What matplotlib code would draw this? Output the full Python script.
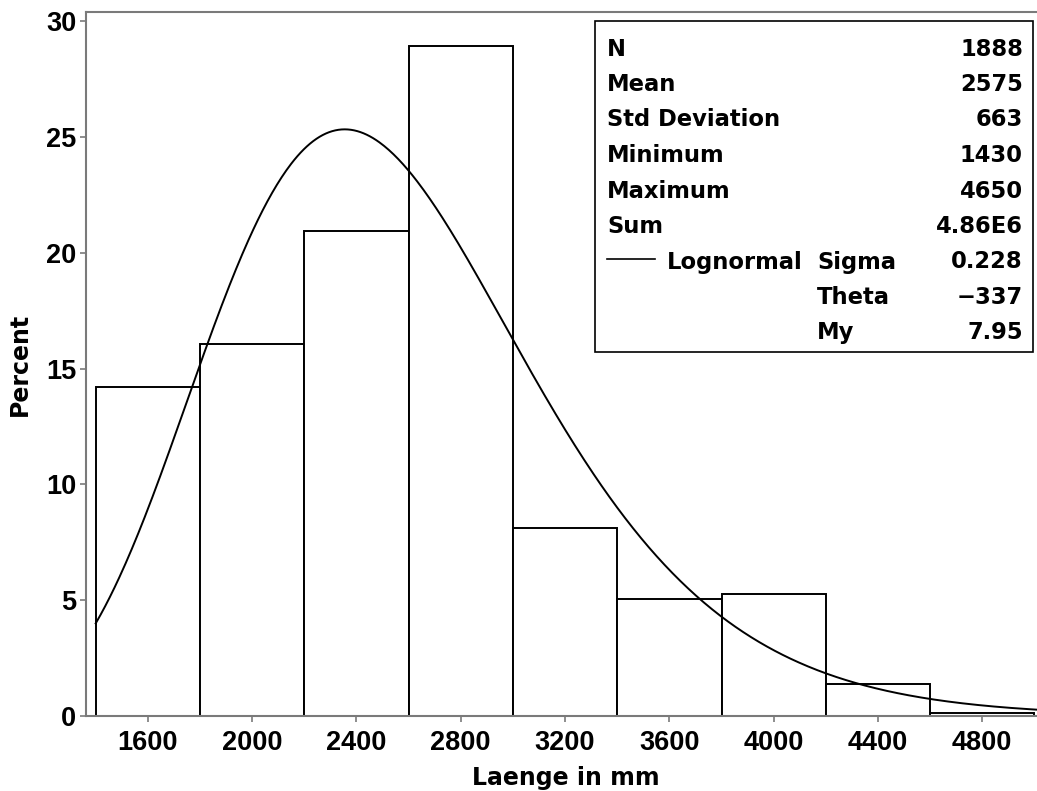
import numpy as np
import matplotlib
matplotlib.use("Agg")
import matplotlib.pyplot as plt
from matplotlib.lines import Line2D
from matplotlib.patches import Rectangle

# ---- data ----
bin_edges = [1400, 1800, 2200, 2600, 3000, 3400, 3800, 4200, 4600, 5000]
percents = [14.2, 16.05, 20.95, 28.95, 8.1, 5.05, 5.25, 1.4, 0.12]
x_ticks = [1600, 2000, 2400, 2800, 3200, 3600, 4000, 4400, 4800]
y_ticks = [0, 5, 10, 15, 20, 25, 30]

stat_labels = ["N", "Mean", "Std Deviation", "Minimum", "Maximum", "Sum"]
stat_values = ["1888", "2575", "663", "1430", "4650", "4.86E6"]
fit_name = "Lognormal"
fit_params = ["Sigma", "Theta", "My"]
fit_values_text = ["0.228", "\u2212337", "7.95"]
sigma, theta, mu = 0.228, -337.0, 7.95

W, H = 1037, 791
fig = plt.figure(figsize=(W / 100, H / 100), dpi=100)

def fx(px):
    return px / W

def fy(py):
    return 1 - py / H

ax_left, ax_right, ax_top, ax_bottom = 86, 1037, 12, 716
ax = fig.add_axes([fx(ax_left), fy(ax_bottom), fx(ax_right - ax_left), (ax_bottom - ax_top) / H])

grey = "#7a7a7a"
tick_font = dict(family="Liberation Sans", weight="bold", size=19.5)
lab_font = dict(family="DejaVu Sans", weight="bold", size=17)
stat_font = dict(family="DejaVu Sans", weight="bold", size=16.3)

# bars
lefts = bin_edges[:-1]
widths = np.diff(bin_edges)
ax.bar(lefts, percents, width=widths, align="edge", facecolor="white",
       edgecolor="black", linewidth=1.4, zorder=2)

# fitted lognormal curve (from the displayed parameters), scaled to percent per bin
bw = bin_edges[1] - bin_edges[0]
xc = np.linspace(bin_edges[0], 5020, 600)
z = xc - theta
pdf = np.exp(-(np.log(z) - mu) ** 2 / (2 * sigma ** 2)) / (z * sigma * np.sqrt(2 * np.pi))
ax.plot(xc, pdf * bw * 100, color="black", linewidth=1.4, zorder=3)

x_lo = 1400 - 9.7 / 104.3 * 400
x_hi = 1400 + (ax_right - 95.7) / 104.3 * 400
ax.set_xlim(x_lo, x_hi)
ax.set_ylim(0, 30.4)

ax.set_xticks(x_ticks)
ax.set_yticks(y_ticks)
ax.set_xticklabels([str(t) for t in x_ticks], **tick_font)
ax.set_yticklabels([str(t) for t in y_ticks], **tick_font)
ax.tick_params(direction="out", length=4, width=1.2, color=grey)
ax.tick_params(axis="x", pad=6)
ax.tick_params(axis="y", pad=3)

for s in ["left", "top", "bottom"]:
    ax.spines[s].set_color(grey)
    ax.spines[s].set_linewidth(1.5)
ax.spines["right"].set_visible(False)

fig.text(fx(566), fy(785), "Laenge in mm", ha="center", va="baseline", **lab_font)
fig.text(fx(20), fy(364), "Percent", ha="center", va="center", rotation=90, **lab_font)

# statistics box (figure pixel coordinates)
box = Rectangle((fx(595), fy(352)), fx(1033 - 595), (352 - 21) / H,
                transform=fig.transFigure, facecolor="white", edgecolor="black",
                linewidth=1.2, zorder=5)
fig.patches.append(box)

row0, dy = 49, 35.5
for i, (lab, val) in enumerate(zip(stat_labels, stat_values)):
    y = fy(row0 + i * dy)
    fig.text(fx(607), y, lab, ha="left", va="center", zorder=6, **stat_font)
    fig.text(fx(1023), y, val, ha="right", va="center", zorder=6, **stat_font)

for j, (p, v) in enumerate(zip(fit_params, fit_values_text)):
    y = fy(row0 + (6 + j) * dy)
    fig.text(fx(817), y, p, ha="left", va="center", zorder=6, **stat_font)
    fig.text(fx(1023), y, v, ha="right", va="center", zorder=6, **stat_font)

yl = fy(row0 + 6 * dy - 3)
fig.lines.append(Line2D([fx(607), fx(655)], [yl, yl], transform=fig.transFigure,
                        color="black", linewidth=1.2, zorder=6))
fig.text(fx(667), fy(row0 + 6 * dy), fit_name, ha="left", va="center", zorder=6, **stat_font)

fig.savefig("out.png", dpi=100)
